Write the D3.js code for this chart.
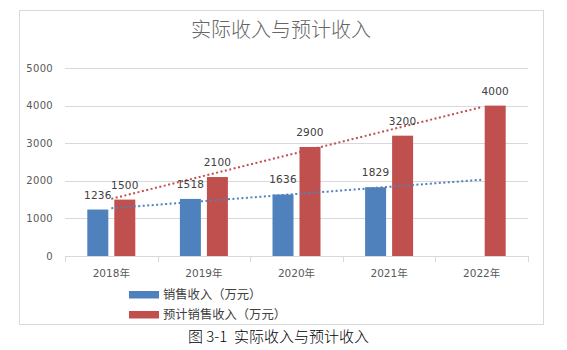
<!DOCTYPE html>
<html><head><meta charset="utf-8">
<script src="https://cdn.jsdelivr.net/npm/d3@7"></script>
<style>
html,body{margin:0;padding:0;background:#fff;}
svg{display:block;}
</style></head>
<body>
<svg id="c" width="567" height="350"></svg>
<script>
const categories = ["2018年","2019年","2020年","2021年","2022年"];
const seriesNames = ["销售收入（万元）","预计销售收入（万元）"];
const actualValues = [1236, 1518, 1636, 1829, null];
const forecastValues = [1500, 2100, 2900, 3200, 4000];
const yTickValues = [0, 1000, 2000, 3000, 4000, 5000];
const colors = ["#4f81bd", "#c0504d"];

const svg = d3.select("#c");
const plot = {left: 65, right: 528, top: 68, bottom: 256};

// frame
svg.append("rect").attr("x", 19.5).attr("y", 10.5).attr("width", 524).attr("height", 314)
  .attr("fill", "#fff").attr("stroke", "#d9d9d9").attr("stroke-width", 1);

// title
svg.append("text").attr("x", 281).attr("y", 37).attr("text-anchor", "middle")
  .attr("font-family", "'Noto Sans CJK SC'").attr("font-size", 20).attr("font-weight", 300)
  .attr("fill", "#666666")
  .text("实际收入与预计收入");

const x0 = d3.scaleBand().domain(categories).range([plot.left, plot.right]).padding(0);
const x1 = d3.scaleBand().domain([0, 1]).range([-24, 24]).paddingInner(0.2222).paddingOuter(0);
const y = d3.scaleLinear().domain([0, 5000]).range([plot.bottom, plot.top]);

// gridlines
svg.append("g").selectAll("line").data(yTickValues).join("line")
  .attr("x1", plot.left).attr("x2", plot.right)
  .attr("y1", d => Math.round(y(d)) + 0.5).attr("y2", d => Math.round(y(d)) + 0.5)
  .attr("stroke", "#d9d9d9").attr("stroke-width", 1);

// y labels
svg.append("g").selectAll("text").data(yTickValues).join("text")
  .attr("x", 53).attr("y", d => y(d) + 3.5).attr("text-anchor", "end")
  .attr("font-family", "'DejaVu Sans'").attr("font-size", 10).attr("fill", "#595959")
  .attr("letter-spacing", 0.3)
  .text(d => d);

// x axis ticks
const bounds = categories.map(c => x0(c)).concat([plot.right]);
svg.append("g").selectAll("line").data(bounds).join("line")
  .attr("x1", d => Math.round(d) + 0.5).attr("x2", d => Math.round(d) + 0.5)
  .attr("y1", plot.bottom).attr("y2", plot.bottom + 6)
  .attr("stroke", "#d9d9d9").attr("stroke-width", 1);

// x labels
svg.append("g").selectAll("text").data(categories).join("text")
  .attr("x", d => x0(d) + x0.bandwidth() / 2).attr("y", 277).attr("text-anchor", "middle")
  .attr("font-family", "'DejaVu Sans', 'Noto Sans CJK SC'").attr("font-size", 10.5).attr("fill", "#595959")
  .text(d => d);

// bars
const seriesData = [actualValues, forecastValues];
const barData = [];
seriesData.forEach((vals, s) => vals.forEach((v, i) => {
  if (v != null) barData.push({s, i, v});
}));
const cx = i => x0(categories[i]) + x0.bandwidth() / 2;
svg.append("g").selectAll("rect").data(barData).join("rect")
  .attr("x", d => cx(d.i) + x1(d.s)).attr("width", x1.bandwidth())
  .attr("y", d => y(d.v)).attr("height", d => y(0) - y(d.v))
  .attr("fill", d => colors[d.s]);

// linear trendlines
function trend(vals) {
  const pts = vals.map((v, i) => [i + 1, v]).filter(p => p[1] != null);
  const mx = d3.mean(pts, p => p[0]), my = d3.mean(pts, p => p[1]);
  const slope = d3.sum(pts, p => (p[0] - mx) * (p[1] - my)) / d3.sum(pts, p => (p[0] - mx) ** 2);
  return [1, categories.length].map(k => [cx(k - 1), y(my + slope * (k - mx))]);
}
const line = d3.line();
seriesData.forEach((vals, s) => {
  svg.append("path").attr("d", line(trend(vals)))
    .attr("fill", "none").attr("stroke", colors[s]).attr("stroke-width", 2)
    .attr("stroke-dasharray", "2 2.5");
});

// data labels
svg.append("g").selectAll("text").data(barData).join("text")
  .attr("x", d => cx(d.i) + x1(d.s) + x1.bandwidth() / 2).attr("y", d => y(d.v) - 11)
  .attr("text-anchor", "middle")
  .attr("font-family", "'DejaVu Sans'").attr("font-size", 10.5).attr("fill", "#404040")
  .attr("letter-spacing", 0.2)
  .text(d => d.v);

// legend
const lg = svg.append("g").selectAll("g").data(seriesNames).join("g")
  .attr("transform", (d, i) => `translate(129, ${291 + i * 20})`);
lg.append("rect").attr("width", 30).attr("height", 7.5).attr("fill", (d, i) => colors[i]);
lg.append("text").attr("x", 34).attr("y", 8)
  .attr("font-family", "'Noto Sans CJK SC'").attr("font-size", 12.3).attr("fill", "#404040")
  .text(d => d);

// caption
svg.append("text").attr("x", 188).attr("y", 342).attr("xml:space", "preserve")
  .style("white-space", "pre")
  .attr("font-family", "'Noto Sans CJK SC'").attr("font-size", 15).attr("font-weight", 300)
  .attr("fill", "#000")
  .text("图 3-1  实际收入与预计收入");
</script>
</body></html>
